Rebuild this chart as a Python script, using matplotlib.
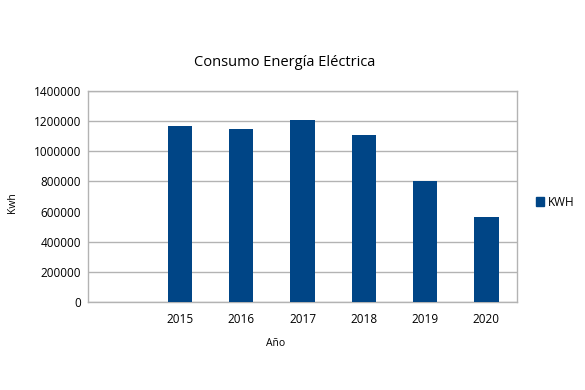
#!/usr/bin/env python3
"""Consumo Energía Eléctrica - bar chart by year"""

import matplotlib
matplotlib.use('Agg')
import matplotlib.pyplot as plt
from matplotlib.patches import Patch

# data
categories = ['', '2015', '2016', '2017', '2018', '2019', '2020']
kwh = [None, 1167000, 1147000, 1207000, 1107000, 803000, 567000]
y_ticks = [0, 200000, 400000, 600000, 800000, 1000000, 1200000, 1400000]

BAR_COLOR = '#004586'
GRID_COLOR = '#b3b3b3'

plt.rcParams['font.family'] = ['Open Sans', 'DejaVu Sans']

fig = plt.figure(figsize=(5.85, 3.9), dpi=100)
ax = fig.add_axes([88 / 585, 1 - 302 / 390, (517 - 88) / 585, (302 - 91) / 390])

# bars (first category slot is empty)
xs = [i for i, v in enumerate(kwh) if v is not None]
vals = [v for v in kwh if v is not None]
ax.bar(xs, vals, width=0.4, color=BAR_COLOR, zorder=3)

ax.set_xlim(-0.5, len(categories) - 0.5)
ax.set_ylim(y_ticks[0], y_ticks[-1])
ax.set_xticks(range(len(categories)))
ax.set_xticklabels(categories, fontsize=8.5)
ax.set_yticks(y_ticks)
ax.set_yticklabels([str(t) for t in y_ticks], fontsize=8.5)
ax.tick_params(length=0, pad=5)
ax.tick_params(axis='x', pad=8)

ax.grid(axis='y', color=GRID_COLOR, linewidth=1, zorder=0)
# the 600000 grid line is not visible in the original
ax.yaxis.get_gridlines()[3].set_visible(False)
for sp in ax.spines.values():
    sp.set_color(GRID_COLOR)
    sp.set_linewidth(1)

fig.text(285 / 585, 1 - 62 / 390, 'Consumo Energía Eléctrica', ha='center', va='center', fontsize=10.5)
fig.text(12 / 585, 1 - 203 / 390, 'Kwh', rotation=90, ha='center', va='center', fontsize=7.5)
fig.text(276 / 585, 1 - 343 / 390, 'Año', ha='center', va='center', fontsize=7.5)

handles = [Patch(color=BAR_COLOR, label='KWH')]
fig.legend(handles=handles, loc='center left', bbox_to_anchor=(525 / 585, 1 - 202 / 390),
           frameon=False, fontsize=8.5, handlelength=0.7, handleheight=0.7, handletextpad=0.3)

plt.savefig('out.png', dpi=100)
